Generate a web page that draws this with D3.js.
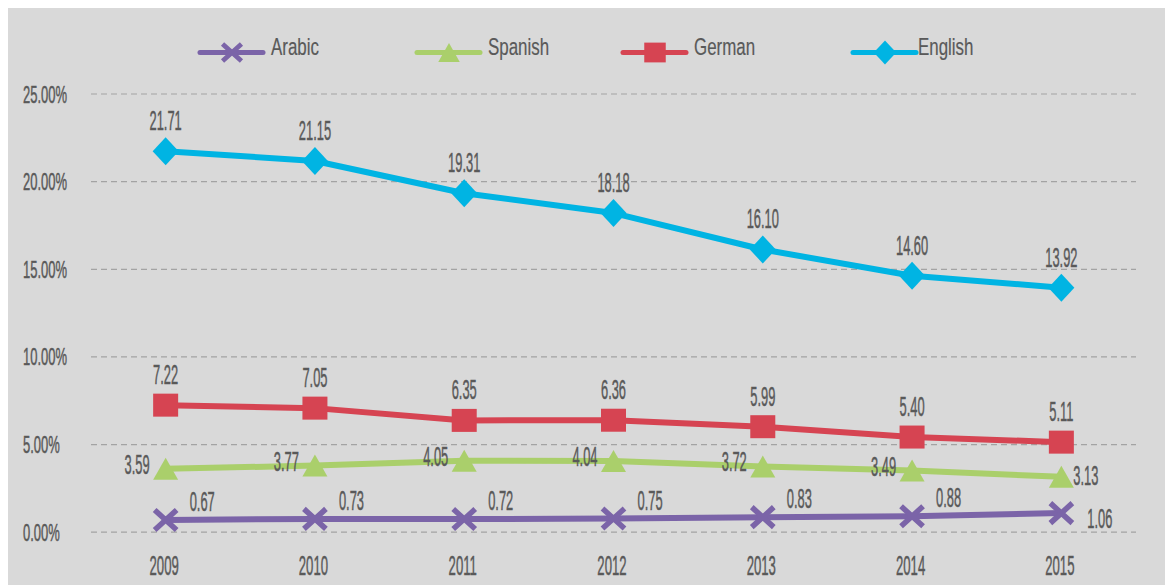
<!DOCTYPE html>
<html lang="en">
<head>
  <meta charset="utf-8" />
  <title>Languages</title>
  <script src="https://d3js.org/d3.v7.min.js"></script>
  <style>
    body {
      margin: 0;
      background: #ffffff;
    }
    text {
      font-family: "Liberation Sans", Arial, sans-serif;
      fill: #595959;
      stroke: #595959;
      stroke-width: 0.5px;
    }
    .grid line {
      stroke: #a3a3a3;
      stroke-width: 1.2;
      stroke-dasharray: 6,4;
    }
  </style>
</head>
<body>
<svg id="chart" width="1165" height="585"></svg>

<script>
// values (percent)
var years   = ["2009", "2010", "2011", "2012", "2013", "2014", "2015"];
var arabic  = [0.67, 0.73, 0.72, 0.75, 0.83, 0.88, 1.06];
var spanish = [3.59, 3.77, 4.05, 4.04, 3.72, 3.49, 3.13];
var german  = [7.22, 7.05, 6.35, 6.36, 5.99, 5.40, 5.11];
var english = [21.71, 21.15, 19.31, 18.18, 16.10, 14.60, 13.92];
var yTicks  = [0, 5, 10, 15, 20, 25];

// label placement per point
var arabicPos  = ["ur", "ur", "ur", "ur", "ur", "ur", "r"];
var spanishPos = ["l", "l", "l", "l", "l", "l", "r2"];

var series = [
  {name: "Arabic",  values: arabic,  color: "#7b64a8", shape: "x",        pos: arabicPos,  lx: 200},
  {name: "Spanish", values: spanish, color: "#aacf6b", shape: "triangle", pos: spanishPos, lx: 417},
  {name: "German",  values: german,  color: "#d64452", shape: "square",   pos: null,       lx: 623},
  {name: "English", values: english, color: "#00b4e3", shape: "diamond",  pos: null,       lx: 853}
];

drawChart(1165, 585);

function drawChart(width, height) {
  var svg = d3.select("#chart");
  var left = 91, right = 1136, top = 93.5, bottom = 531.7;

  svg.append("rect")
    .attr("x", 8).attr("y", 8)
    .attr("width", width - 8).attr("height", height - 8)
    .attr("fill", "#d9d9d9");

  var x = d3.scalePoint().domain(years).range([left, right]).padding(0.5);
  var y = d3.scaleLinear().domain([0, 25]).range([bottom, top]);

  // grid + y labels
  var gy = svg.append("g")
    .attr("class", "grid")
    .attr("transform", "translate(" + left + ",0)")
    .call(d3.axisLeft(y).tickValues(yTicks).tickSize(-(right - left)).tickPadding(0)
      .tickFormat(function(d) { return d.toFixed(2) + "%"; }));
  gy.select(".domain").remove();
  gy.selectAll(".tick text")
    .attr("x", null).attr("dy", null)
    .attr("text-anchor", "start")
    .attr("transform", "translate(-68,8.5) scale(0.53,1)")
    .style("font-size", "24.5px");

  // x labels
  var gx = svg.append("g")
    .attr("transform", "translate(0," + bottom + ")")
    .call(d3.axisBottom(x).tickSize(0));
  gx.select(".domain").remove();
  gx.selectAll(".tick text")
    .attr("y", null).attr("dy", null)
    .attr("transform", "translate(-2,43.5) scale(0.47,1)")
    .style("font-size", "28px");

  var line = d3.line()
    .x(function(d, i) { return x(years[i]); })
    .y(function(d) { return y(d); });

  series.forEach(function(s) {
    svg.append("path")
      .datum(s.values)
      .attr("fill", "none")
      .attr("stroke", s.color)
      .attr("stroke-width", 6)
      .attr("stroke-linejoin", "round")
      .attr("d", line);
  });

  series.forEach(function(s) {
    s.values.forEach(function(v, i) {
      drawMarker(svg, s.shape, x(years[i]), y(v), s.color, 1);
    });
  });

  // data labels
  series.forEach(function(s) {
    s.values.forEach(function(v, i) {
      var px = x(years[i]), py = y(v);
      var p = s.pos ? s.pos[i] : "u";
      var dx = 0, dy = -21, anchor = "middle";
      if (p == "ur") { dx = 24; dy = -9; anchor = "start"; }
      if (p == "r")  { dx = 26; dy = 15; anchor = "start"; }
      if (p == "r2") { dx = 12; dy = 8;  anchor = "start"; }
      if (p == "l")  { dx = -16; dy = 5; anchor = "end"; }
      svg.append("text")
        .attr("transform", "translate(" + (px + dx) + "," + (py + dy) + ") scale(0.46,1)")
        .attr("text-anchor", anchor)
        .style("font-size", "28px")
        .text(v.toFixed(2));
    });
  });

  // legend
  var ly = 52.5;
  series.forEach(function(s) {
    svg.append("line")
      .attr("x1", s.lx).attr("x2", s.lx + 63)
      .attr("y1", ly).attr("y2", ly)
      .attr("stroke", s.color)
      .attr("stroke-width", 5)
      .attr("stroke-linecap", "round");
    drawMarker(svg, s.shape, s.lx + 32, ly, s.color, 0.86);
    svg.append("text")
      .attr("transform", "translate(" + (s.lx + (s.name == "English" ? 65 : 71)) + "," + (ly + 2.5) + ") scale(0.72,1)")
      .style("font-size", "23.5px")
      .style("stroke-width", "0.2px")
      .text(s.name);
  });
}

function drawMarker(svg, shape, cx, cy, color, k) {
  var g = svg.append("g").attr("transform", "translate(" + cx + "," + cy + ") scale(" + k + ")");
  if (shape == "x") {
    g.append("path")
      .attr("d", "M-11,-10L11,10M-11,10L11,-10")
      .attr("stroke", color).attr("stroke-width", 5.5).attr("fill", "none");
  } else if (shape == "triangle") {
    g.append("path").attr("d", "M0,-11L12.5,11L-12.5,11Z").attr("fill", color);
  } else if (shape == "square") {
    g.append("rect").attr("x", -12.5).attr("y", -11.5).attr("width", 25).attr("height", 23).attr("fill", color);
  } else {
    g.append("path").attr("d", "M0,-14L13,0L0,14L-13,0Z").attr("fill", color);
  }
}
</script>
</body>
</html>
